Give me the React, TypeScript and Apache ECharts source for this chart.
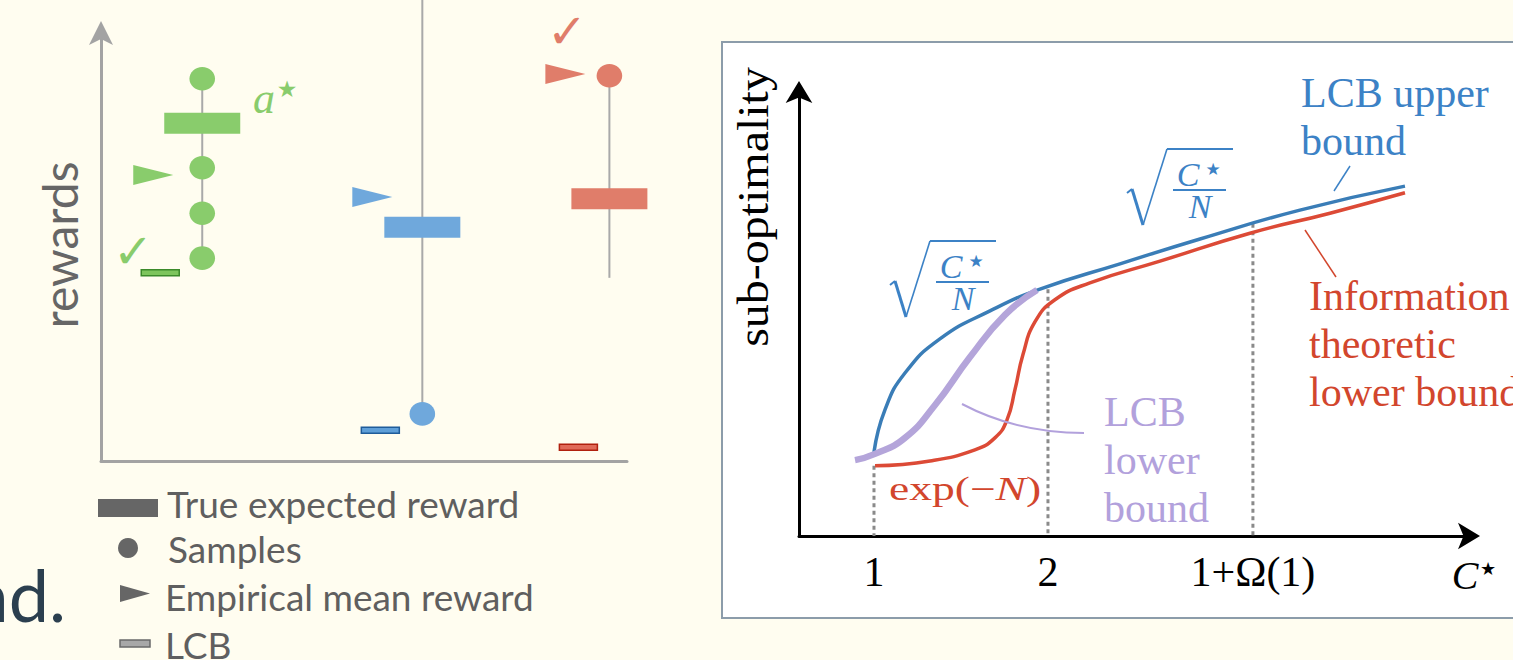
import React, { useEffect, useRef } from 'react';
import * as echarts from 'echarts';

// ---------------- Left panel: three bandit arms ----------------
const armNames = ['arm a*', 'arm 2', 'arm 3'];
const armPos = [1, 2, 2.85];
const trueMean = [78.9, 54.6, 61.3];
const empiricalMean = [66.8, 61.7, 90.4];
const lcbValue = [44.0, 7.2, 3.2];
const samplesArm1 = [89.3, 68.5, 57.9, 47.4];
const samplesArm2 = [11.0, 112.0];
const samplesArm3 = [90.0];
const stemLow = [47.4, 11.0, 42.8];
const stemHigh = [89.3, 112.0, 90.0];

// ---------------- Right panel: sub-optimality vs C* ----------------
const upperX = [1.0, 1.063, 1.178, 1.379, 1.667, 1.954, 2.414, 2.874, 3.448, 4.052];
const upperY = [18.9, 28.4, 36.7, 44.4, 50.7, 55.6, 61.3, 66.9, 73.4, 78.8];
const infoX = [1.006, 1.322, 1.58, 1.695, 1.764, 1.81, 1.856, 1.925, 2.04, 2.241, 2.644, 3.161, 3.621, 4.052];
const infoY = [15.8, 16.9, 19.4, 22.1, 26.1, 32.9, 40.8, 48.2, 53.2, 57.0, 61.9, 68.2, 72.7, 77.3];
const lcbLowX = [0.891, 1.006, 1.178, 1.351, 1.552, 1.753, 1.937];
const lcbLowY = [17.1, 18.5, 22.1, 29.5, 40.3, 49.8, 55.4];
const xTickValues = [1, 2, 3.178];
const xTickLabels = ['1', '2', '1+Ω(1)'];
const guideX = [1, 2, 3.178];
const guideTop = [15.8, 55.6, 70.3];

// ---------------- styles ----------------
const armColor = ['#89cc6c', '#6fa8dc', '#e07d6a'];
const lcbFill = ['#7dc55c', '#5f9fd8', '#e06a58'];
const lcbStroke = ['#3b8a2a', '#1f5c9a', '#b0200e'];
const triTipOffset = [-29, -30, -24];
const lcbOffset = [-42, -42, -31];
const SERIF = 'Liberation Serif';
const SANS = 'Lato';
const BLUE_T = '#3c82c6';
const RED_T = '#d2462d';
const PURPLE_T = '#b2a1dc';

function sqrtGroup(ox: number, oy: number, color: string) {
  return {
    type: 'group', x: ox, y: oy, z: 20,
    children: [
      { type: 'line', shape: { x1: -40, y1: 44, x2: -35, y2: 40 }, style: { stroke: color, lineWidth: 2 } },
      { type: 'line', shape: { x1: -35, y1: 40, x2: -24, y2: 76 }, style: { stroke: color, lineWidth: 3 } },
      { type: 'line', shape: { x1: -24, y1: 76, x2: 0, y2: 0 }, style: { stroke: color, lineWidth: 1.6 } },
      { type: 'line', shape: { x1: 0, y1: 0, x2: 66, y2: 0 }, style: { stroke: color, lineWidth: 2 } },
      { type: 'text', x: 21, y: 25, style: { text: 'C', fontFamily: SERIF, fontStyle: 'italic', fontSize: 34, fill: color, align: 'center', verticalAlign: 'middle' } },
      { type: 'text', x: 46, y: 20, style: { text: '★', fontFamily: 'DejaVu Sans', fontSize: 17, fill: color, align: 'center', verticalAlign: 'middle' } },
      { type: 'line', shape: { x1: 6, y1: 41, x2: 59, y2: 41 }, style: { stroke: color, lineWidth: 2 } },
      { type: 'text', x: 33, y: 57, style: { text: 'N', fontFamily: SERIF, fontStyle: 'italic', fontSize: 34, fill: color, align: 'center', verticalAlign: 'middle' } },
    ],
  };
}

function txt(x: number, y: number, text: string, extra: any) {
  return { type: 'text', x, y, z: 20, style: { text, align: 'left', verticalAlign: 'middle', ...extra } };
}

export default function App() {
  const ref = useRef<HTMLDivElement>(null);
  useEffect(() => {
    if (!ref.current) return;
    const chart = echarts.init(ref.current, undefined, { renderer: 'svg' });

    const samples = [
      ...samplesArm1.map((v) => [armPos[0], v, 0]),
      ...samplesArm2.map((v) => [armPos[1], v, 1]),
      ...samplesArm3.map((v) => [armPos[2], v, 2]),
    ];

    const option: any = {
      animation: false,
      backgroundColor: '#fffdf0',
      grid: [
        { left: 101, top: 33, right: 886, bottom: 199, outerBoundsMode: 'none' },
        { left: 799, top: 92, right: 44, bottom: 124, outerBoundsMode: 'none' },
      ],
      xAxis: [
        {
          gridIndex: 0, type: 'value', min: 0.54, max: 2.93,
          axisLine: { show: true, onZero: false, lineStyle: { color: '#a3a3a3', width: 3 } },
          axisTick: { show: false }, axisLabel: { show: false }, splitLine: { show: false },
        },
        {
          gridIndex: 1, type: 'value', min: 0.569, max: 4.42,
          axisLine: { show: true, onZero: false, symbol: ['none', 'arrow'], symbolSize: [20, 22], symbolOffset: [0, 11], lineStyle: { color: '#000', width: 3 } },
          axisTick: { show: false }, splitLine: { show: false },
          axisLabel: {
            customValues: xTickValues,
            formatter: (v: number) => {
              const i = xTickValues.findIndex((t) => Math.abs(t - v) < 1e-6);
              return i >= 0 ? xTickLabels[i] : '';
            },
            fontFamily: SERIF, fontSize: 42, color: '#000', margin: 15, lineHeight: 42,
          },
        },
      ],
      yAxis: [
        {
          gridIndex: 0, type: 'value', min: 0, max: 100,
          axisLine: { show: true, onZero: false, symbol: ['none', 'arrow'], symbolSize: [18, 24], symbolOffset: [0, 12], lineStyle: { color: '#a3a3a3', width: 3 } },
          axisTick: { show: false }, axisLabel: { show: false }, splitLine: { show: false },
        },
        {
          gridIndex: 1, type: 'value', min: 0, max: 100,
          axisLine: { show: true, onZero: false, symbol: ['none', 'arrow'], symbolSize: [20, 22], symbolOffset: [0, 11], lineStyle: { color: '#000', width: 3 } },
          axisTick: { show: false }, axisLabel: { show: false }, splitLine: { show: false },
        },
      ],
      series: [
        {
          name: 'stems', type: 'custom', xAxisIndex: 0, yAxisIndex: 0, z: 2,
          data: armPos.map((x, i) => [x, stemLow[i], stemHigh[i], i]),
          renderItem: (_p: any, api: any) => {
            const a = api.coord([api.value(0), api.value(1)]);
            const b = api.coord([api.value(0), api.value(2)]);
            return { type: 'line', shape: { x1: a[0], y1: a[1], x2: b[0], y2: b[1] }, style: { stroke: '#a9a9a9', lineWidth: 2 } };
          },
        },
        {
          name: 'True expected reward', type: 'custom', xAxisIndex: 0, yAxisIndex: 0, z: 3,
          data: armPos.map((x, i) => [x, trueMean[i], i]),
          renderItem: (_p: any, api: any) => {
            const c = api.coord([api.value(0), api.value(1)]);
            const i = api.value(2);
            return { type: 'rect', shape: { x: c[0] - 38, y: c[1] - 10.5, width: 76, height: 21 }, style: { fill: armColor[i] } };
          },
        },
        {
          name: 'Samples', type: 'custom', xAxisIndex: 0, yAxisIndex: 0, z: 3,
          data: samples,
          renderItem: (_p: any, api: any) => {
            const c = api.coord([api.value(0), api.value(1)]);
            const i = api.value(2);
            return { type: 'ellipse', shape: { cx: c[0], cy: c[1], rx: 12.8, ry: 11.8 }, style: { fill: armColor[i] } };
          },
        },
        {
          name: 'Empirical mean reward', type: 'custom', xAxisIndex: 0, yAxisIndex: 0, z: 3,
          data: armPos.map((x, i) => [x, empiricalMean[i], i]),
          renderItem: (_p: any, api: any) => {
            const c = api.coord([api.value(0), api.value(1)]);
            const i = api.value(2);
            const tx = c[0] + triTipOffset[i];
            return { type: 'polygon', shape: { points: [[tx - 40, c[1] - 10], [tx, c[1]], [tx - 40, c[1] + 10]] }, style: { fill: armColor[i] } };
          },
        },
        {
          name: 'LCB', type: 'custom', xAxisIndex: 0, yAxisIndex: 0, z: 3,
          data: armPos.map((x, i) => [x, lcbValue[i], i]),
          renderItem: (_p: any, api: any) => {
            const c = api.coord([api.value(0), api.value(1)]);
            const i = api.value(2);
            const cx = c[0] + lcbOffset[i];
            return { type: 'rect', shape: { x: cx - 19, y: c[1] - 3, width: 38, height: 6 }, style: { fill: lcbFill[i], stroke: lcbStroke[i], lineWidth: 1.5 } };
          },
        },
        {
          name: 'guides', type: 'custom', xAxisIndex: 1, yAxisIndex: 1, z: 1,
          data: guideX.map((x, i) => [x, guideTop[i]]),
          renderItem: (_p: any, api: any) => {
            const t = api.coord([api.value(0), api.value(1)]);
            const b = api.coord([api.value(0), 0]);
            return { type: 'line', shape: { x1: t[0], y1: t[1], x2: b[0], y2: b[1] }, style: { stroke: '#8a8a8a', lineWidth: 3, lineDash: [4, 3.5] } };
          },
        },
        {
          name: 'Information theoretic lower bound', type: 'line', xAxisIndex: 1, yAxisIndex: 1, z: 3,
          data: infoX.map((x, i) => [x, infoY[i]]),
          smooth: 0.5, showSymbol: false, symbol: 'none',
          lineStyle: { color: '#dc4a36', width: 3.5 },
        },
        {
          name: 'LCB upper bound', type: 'line', xAxisIndex: 1, yAxisIndex: 1, z: 4,
          data: upperX.map((x, i) => [x, upperY[i]]),
          smooth: 0.5, showSymbol: false, symbol: 'none',
          lineStyle: { color: '#3a7db7', width: 3.5 },
        },
        {
          name: 'LCB lower bound', type: 'line', xAxisIndex: 1, yAxisIndex: 1, z: 5,
          data: lcbLowX.map((x, i) => [x, lcbLowY[i]]),
          smooth: 0.5, showSymbol: false, symbol: 'none',
          lineStyle: { color: '#b4a5da', width: 6.5 },
        },
      ],
      graphic: [
        // right panel frame
        { type: 'rect', z: -1, shape: { x: 722, y: 42, width: 840, height: 576 }, style: { fill: '#ffffff', stroke: '#8c9caa', lineWidth: 2 } },
        // left panel texts
        { type: 'text', x: 59, y: 245, rotation: Math.PI / 2, z: 20, style: { text: 'rewards', fontFamily: SANS, fontSize: 48, fill: '#666666', align: 'center', verticalAlign: 'middle' } },
        { type: 'text', x: 133, y: 251, z: 20, style: { text: '✓', fontFamily: 'DejaVu Sans', fontSize: 48, fill: armColor[0], align: 'center', verticalAlign: 'middle' } },
        { type: 'text', x: 567, y: 31, z: 20, style: { text: '✓', fontFamily: 'DejaVu Sans', fontSize: 48, fill: armColor[2], align: 'center', verticalAlign: 'middle' } },
        { type: 'text', x: 264, y: 98, z: 20, style: { text: 'a', fontFamily: SERIF, fontStyle: 'italic', fontSize: 44, fill: armColor[0], align: 'center', verticalAlign: 'middle' } },
        { type: 'text', x: 287, y: 89, z: 20, style: { text: '★', fontFamily: 'DejaVu Sans', fontSize: 23, fill: armColor[0], align: 'center', verticalAlign: 'middle' } },
        // legend
        { type: 'rect', z: 20, shape: { x: 98, y: 499, width: 60, height: 18 }, style: { fill: '#666666' } },
        txt(167, 503, 'True expected reward', { fontFamily: SANS, fontSize: 37, fill: '#5f5f5f' }),
        { type: 'circle', z: 20, shape: { cx: 128, cy: 548, r: 10 }, style: { fill: '#666666' } },
        txt(168, 548, 'Samples', { fontFamily: SANS, fontSize: 37, fill: '#5f5f5f' }),
        { type: 'polygon', z: 20, shape: { points: [[120, 585], [150, 593.5], [120, 602]] }, style: { fill: '#666666' } },
        txt(165, 596, 'Empirical mean reward', { fontFamily: SANS, fontSize: 37, fill: '#5f5f5f' }),
        { type: 'rect', z: 20, shape: { x: 120, y: 640, width: 30, height: 7 }, style: { fill: '#a8a8a8', stroke: '#6a6a6a', lineWidth: 1.5 } },
        txt(165, 644, 'LCB', { fontFamily: SANS, fontSize: 37, fill: '#5f5f5f' }),
        { type: 'text', x: 66, y: 594, z: 20, style: { text: 'nd.', fontFamily: SANS, fontSize: 72, fill: '#2b3f4f', align: 'right', verticalAlign: 'middle' } },
        // right panel texts
        { type: 'text', x: 753, y: 207, rotation: Math.PI / 2, scaleX: 1.09, z: 20, style: { text: 'sub-optimality', fontFamily: SERIF, fontSize: 44, fill: '#000', align: 'center', verticalAlign: 'middle' } },
        { type: 'text', x: 1301, y: 68.8, z: 20, style: { text: 'LCB upper\nbound', fontFamily: SERIF, fontSize: 42, lineHeight: 48, fill: BLUE_T, align: 'left', verticalAlign: 'top' } },
        { type: 'text', x: 1309, y: 271.8, z: 20, style: { text: 'Information\ntheoretic\nlower bound', fontFamily: SERIF, fontSize: 42, lineHeight: 48, fill: RED_T, align: 'left', verticalAlign: 'top' } },
        { type: 'text', x: 1104, y: 387.8, z: 20, style: { text: 'LCB\nlower\nbound', fontFamily: SERIF, fontSize: 42, lineHeight: 48, fill: PURPLE_T, align: 'left', verticalAlign: 'top' } },
        {
          type: 'text', x: 889, y: 489, scaleX: 1.38, z: 20,
          style: {
            text: '{a|exp(−}{b|N}{a|)}', align: 'left', verticalAlign: 'middle',
            rich: {
              a: { fontFamily: SERIF, fontSize: 33, fill: RED_T },
              b: { fontFamily: SERIF, fontSize: 33, fontStyle: 'italic', fill: RED_T },
            },
          },
        },
        { type: 'text', x: 1465, y: 575, z: 20, style: { text: 'C', fontFamily: SERIF, fontStyle: 'italic', fontSize: 40, fill: '#000', align: 'center', verticalAlign: 'middle' } },
        { type: 'text', x: 1488, y: 568, z: 20, style: { text: '★', fontFamily: 'DejaVu Sans', fontSize: 18, fill: '#000', align: 'center', verticalAlign: 'middle' } },
        sqrtGroup(1167, 149, BLUE_T),
        sqrtGroup(930, 241, BLUE_T),
        // leader lines
        { type: 'line', z: 20, shape: { x1: 1334, y1: 191, x2: 1350, y2: 166 }, style: { stroke: BLUE_T, lineWidth: 1.5 } },
        { type: 'line', z: 20, shape: { x1: 1305, y1: 230, x2: 1336, y2: 277 }, style: { stroke: RED_T, lineWidth: 1.5 } },
        { type: 'bezierCurve', z: 20, shape: { x1: 962, y1: 404, cpx1: 1000, cpy1: 424, cpx2: 1040, cpy2: 433, x2: 1084, y2: 433 }, style: { stroke: PURPLE_T, lineWidth: 2, fill: null } },
      ],
    };

    chart.setOption(option);
    return () => chart.dispose();
  }, []);

  return <div ref={ref} style={{ position: 'fixed', left: 0, top: 0, width: 1513, height: 660 }} />;
}
